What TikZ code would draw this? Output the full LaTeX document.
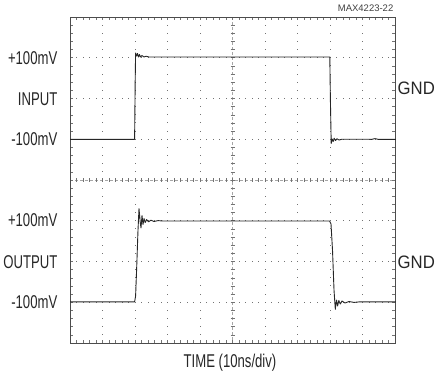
\documentclass[tikz,border=0pt]{standalone}
\usepackage{fontspec}
\setmainfont{Liberation Sans}
\newfontfamily\labfont[FakeStretch=0.71]{Liberation Sans}
\newfontfamily\gndfont[FakeStretch=0.93]{Liberation Sans}
\begin{document}
\begin{tikzpicture}[x=1pt,y=-1pt,
  lab/.style={inner sep=0pt,font=\labfont\fontsize{18.5}{18.5}\selectfont,text=black!85},
  gndlab/.style={inner sep=0pt,font=\gndfont\fontsize{18}{18}\selectfont,text=black!85},
  tag/.style={inner sep=0pt,font=\fontsize{9.5}{9.5}\selectfont,text=black!75},
  frame/.style={draw=black!70,line width=0.9pt},
  tick/.style={draw=black!55,line width=0.6pt},
  axis/.style={draw=black!35,line width=0.6pt,dash pattern=on 3pt off 2pt},
  dotg/.style={fill=black!55},
  trace/.style={draw=black!85,line width=0.9pt,line join=round}]
\useasboundingbox (0,0) rectangle (435,378);
% grid dots
\foreach \k in {1,2,3,5,6,7}{
  \foreach \j in {1,...,49}{
    \fill[dotg] ({70+\j*6.5-0.5},{17+\k*40.75-0.5}) rectangle ++(1,1);
  }
}
\foreach \k in {1,2,3,4,6,7,8,9}{
  \foreach \j in {1,...,39}{
    \fill[dotg] ({70+\k*32.5-0.5},{17+\j*8.15-0.5}) rectangle ++(1,1);
  }
}
% center axes
\draw[axis] (70,180) -- (395,180);
\draw[axis] (232.5,17) -- (232.5,343);
\foreach \j in {1,...,49}{
  \draw[tick] ({70+\j*6.5},178) -- ({70+\j*6.5},182);
}
\foreach \j in {1,...,39}{
  \draw[tick] (230.5,{17+\j*8.15}) -- (234.5,{17+\j*8.15});
}
% border ticks
\foreach \j in {1,...,49}{
  \draw[tick] ({70+\j*6.5},17) -- ({70+\j*6.5},20);
  \draw[tick] ({70+\j*6.5},343) -- ({70+\j*6.5},340);
}
\foreach \j in {1,...,39}{
  \draw[tick] (70,{17+\j*8.15}) -- (73,{17+\j*8.15});
  \draw[tick] (395,{17+\j*8.15}) -- (392,{17+\j*8.15});
}
% frame
\node[frame,inner sep=0pt,minimum width=325pt,minimum height=326pt,anchor=north west] (scope) at (70,17) {};
% input trace
\draw[trace] (scope.west |- 0,139.3) -- (134.6,139.3) -- (135.2,80) -- (135.6,53)
  -- (136.6,56) -- (137.5,53.5) -- (138.5,57) -- (139.5,54.5) -- (140.5,57)
  -- (142,55.5) -- (144,57) -- (146,56.2) -- (149,57) -- (329.8,57)
  -- (330.4,100) -- (331.2,143.5) -- (332.2,139) -- (333.2,141.5) -- (334.2,138.2)
  -- (335.4,140.5) -- (337,138.8) -- (339,140) -- (342,139.2) -- (372,139.3)
  -- (375,138.6) -- (378,139.3) -- (scope.east |- 0,139.3);
% output trace
\draw[trace] (scope.west |- 0,301.8) -- (134.6,301.8) -- (135.6,296) -- (136.6,270)
  -- (138,230) -- (139,208.5) -- (140.2,222) -- (141,228) -- (142,215.5)
  -- (143,224.5) -- (144,218.5) -- (145.2,222.5) -- (146.6,219.5) -- (148.5,221.8)
  -- (151,220.2) -- (154,221.5) -- (158,220.6) -- (163,221) -- (329.5,221)
  -- (331,224) -- (332.5,250) -- (334,290) -- (335.3,309.3) -- (336.5,300)
  -- (337.6,306) -- (338.8,300.5) -- (340.3,304) -- (342,301) -- (345,303)
  -- (349,301.5) -- (354,302.4) -- (360,301.8) -- (scope.east |- 0,301.8);
% labels
\node[lab,anchor=east] (ip) at (57.5,57.75) {+100mV};
\node[lab,anchor=east] (iin) at (57.5,99) {INPUT};
\node[lab,anchor=east] (im) at (57.5,139.3) {-100mV};
\node[gndlab,anchor=west] (ig) at (397.5,88) {GND};
\node[lab,anchor=east] (op) at (57.5,220.5) {+100mV};
\node[lab,anchor=east] (oo) at (57.5,261.8) {OUTPUT};
\node[lab,anchor=east] (om) at (57.5,302.5) {-100mV};
\node[gndlab,anchor=west] (og) at (397.5,261.8) {GND};
\node[lab] (time) at (230,362.7) {TIME (10ns/div)};
\node[tag,anchor=east] (ref) at (393.5,8.5) {MAX4223-22};
\end{tikzpicture}
\end{document}
